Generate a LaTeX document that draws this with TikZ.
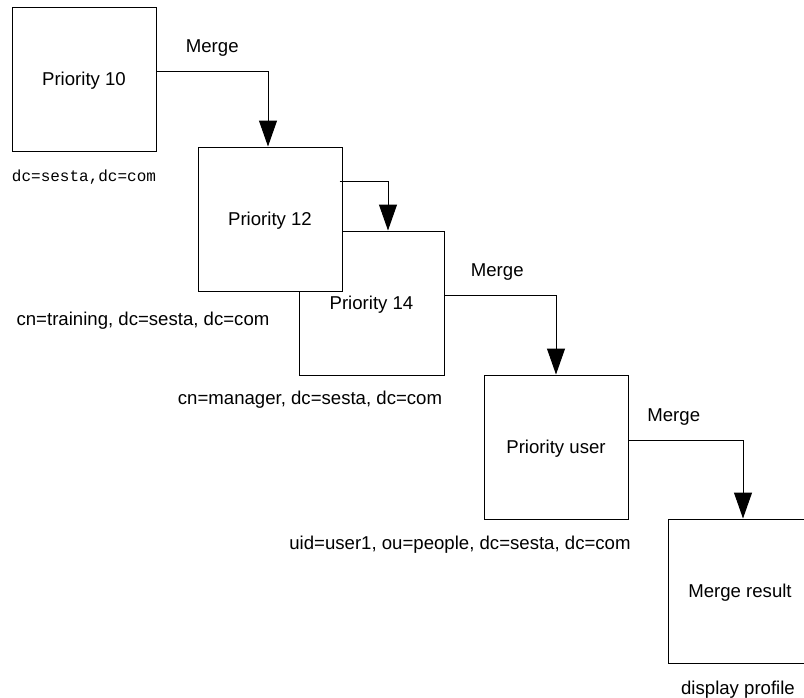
\documentclass[tikz,border=0pt]{standalone}
\usepackage{fontspec}
\setmainfont{Liberation Sans}
\setmonofont{Liberation Mono}
\usetikzlibrary{positioning,arrows.meta}

\begin{document}
\begin{tikzpicture}[x=0.5pt, y=-0.5pt,
    prio/.style={draw, fill=white, line width=0.5pt, minimum width=72pt,
        minimum height=72pt, inner sep=0pt, text depth=0pt,
        font=\fontsize{9.3}{11}\selectfont},
    dn/.style={text depth=0pt, font=\fontsize{9.3}{11}\selectfont},
    lbl/.style={text depth=0pt, font=\fontsize{9.3}{11}\selectfont},
    flow/.style={line width=0.5pt, -{Triangle[length=13pt,width=9pt]}}]
    \clip (0,0) rectangle (804,697);

    % Nodes
    \node[prio] (p10) at (84,79) {Priority 10};
    \node[prio, minimum width=72.5pt] (p14) at (371.5,303) {Priority 14};
    \node[prio] (p12) at (270,219) {Priority 12};
    \node[prio] (puser) at (556,447) {Priority user};
    \node[prio] (result) at (740,591) {Merge result};

    % Entries
    \node[text depth=0pt, font=\ttfamily\fontsize{8}{10}\selectfont] (dn10) at (84,176) {dc=sesta,dc=com};
    \node[dn] (dn12) at (143,319) {cn=training, dc=sesta, dc=com};
    \node[dn] (dn14) at (310,398) {cn=manager, dc=sesta, dc=com};
    \node[dn] (dnuser) at (460,543) {uid=user1, ou=people, dc=sesta, dc=com};
    \node[dn] (dnresult) at (738,688) {display profile};

    % Arrows
    \draw[flow] ([yshift=4pt]p10.east) -| node[lbl, pos=0.25, yshift=12.5pt] (m10) {Merge} ([xshift=-1pt]p12.north);
    \draw[flow] ([xshift=-1.5pt, yshift=19pt]p12.east) -| ([xshift=8.25pt]p14.north);
    \draw[flow] ([yshift=4pt]p14.east) -| node[lbl, pos=0.25, yshift=12.5pt, xshift=-1.5pt] (m14) {Merge} (puser.north);
    \draw[flow] ([yshift=3.5pt]puser.east) -| node[lbl, pos=0.25, yshift=12.5pt, xshift=-6pt] (muser) {Merge} ([xshift=1.5pt]result.north);
\end{tikzpicture}
\end{document}
